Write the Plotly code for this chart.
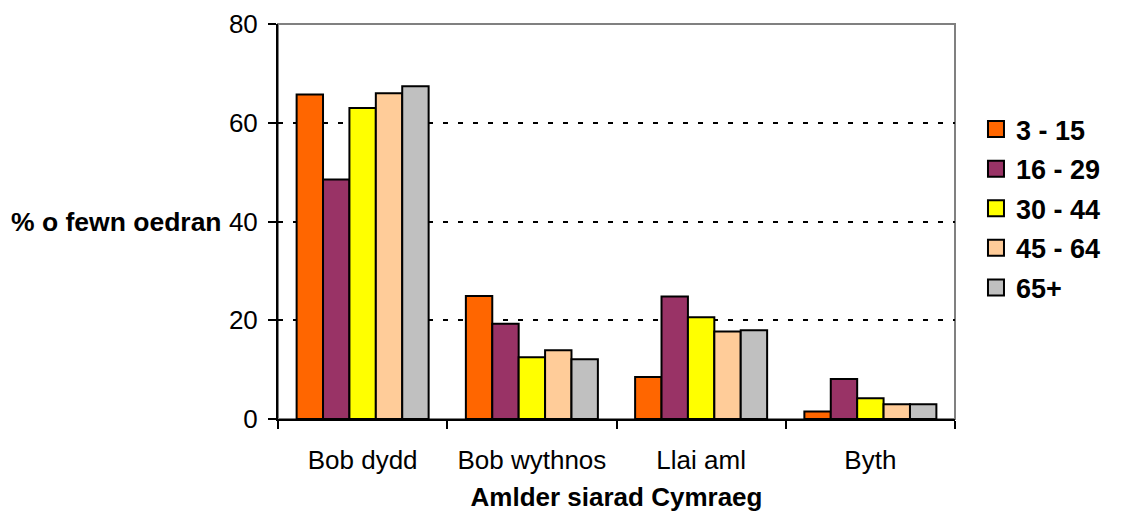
import plotly.graph_objects as go

categories = ["Bob dydd", "Bob wythnos", "Llai aml", "Byth"]
age_groups = ["3 - 15", "16 - 29", "30 - 44", "45 - 64", "65+"]
v_3_15 = [65.7, 24.9, 8.5, 1.5]
v_16_29 = [48.5, 19.3, 24.8, 8.1]
v_30_44 = [63.0, 12.5, 20.6, 4.2]
v_45_64 = [66.0, 13.9, 17.7, 3.0]
v_65 = [67.4, 12.1, 18.0, 3.0]
series = [v_3_15, v_16_29, v_30_44, v_45_64, v_65]
colors = ["#FF6600", "#993366", "#FFFF00", "#FFCC99", "#C0C0C0"]
y_ticks = [0, 20, 40, 60, 80]

FONT = "Liberation Sans, Arial, sans-serif"

fig = go.Figure()
for name, vals, col in zip(age_groups, series, colors):
    fig.add_trace(go.Bar(
        x=categories, y=vals, name=name, showlegend=False,
        marker=dict(color=col, line=dict(color="black", width=2)),
    ))
for i, (name, col) in enumerate(zip(age_groups, colors)):
    fig.add_trace(go.Scatter(
        x=[None], y=[None], mode="markers", name=f"<b>{name}</b>", legendgroup=f"g{i}",
        marker=dict(symbol="square", size=20, color=col, line=dict(color="black", width=2)),
    ))

fig.add_shape(type="rect", xref="paper", yref="paper", x0=0, x1=1, y0=0, y1=1,
              line=dict(color="#808080", width=2), layer="below")

fig.add_annotation(text="<b>% o fewn oedran</b>", xref="paper", yref="paper",
                   x=-0.0805, y=0.5, xanchor="right", yanchor="middle", showarrow=False,
                   font=dict(family=FONT, size=26.5, color="black"))

fig.update_layout(
    width=1123, height=515,
    margin=dict(l=270, r=176, t=16, b=104, autoexpand=False),
    paper_bgcolor="white", plot_bgcolor="white",
    barmode="group", bargap=0.22, bargroupgap=0,
    font=dict(family=FONT, size=24, color="black"),
    legend=dict(x=1.031, y=0.795, xanchor="left", yanchor="top",
                font=dict(family=FONT, size=27, color="black"),
                tracegroupgap=1.5, itemclick=False),
    xaxis=dict(
        automargin=False,
        showline=True, linecolor="black", linewidth=2,
        ticks="outside", tickson="boundaries", ticklen=8, tickwidth=2, tickcolor="black",
        ticklabelstandoff=17,
        showgrid=False,
        title=dict(text="<b>Amlder siarad Cymraeg</b>", standoff=14,
                   font=dict(family=FONT, size=26, color="black")),
        tickfont=dict(family=FONT, size=26, color="black"),
    ),
    yaxis=dict(
        automargin=False,
        range=[0, 80], tickvals=y_ticks,
        showline=True, linecolor="black", linewidth=2,
        ticks="outside", ticklen=8, tickwidth=2, tickcolor="black",
        ticklabelstandoff=5,
        showgrid=True, gridcolor="black", gridwidth=2, griddash="5px,10px",
        zeroline=False,
        tickfont=dict(family=FONT, size=26, color="black"),
    ),
)

fig.write_html("out.html")
